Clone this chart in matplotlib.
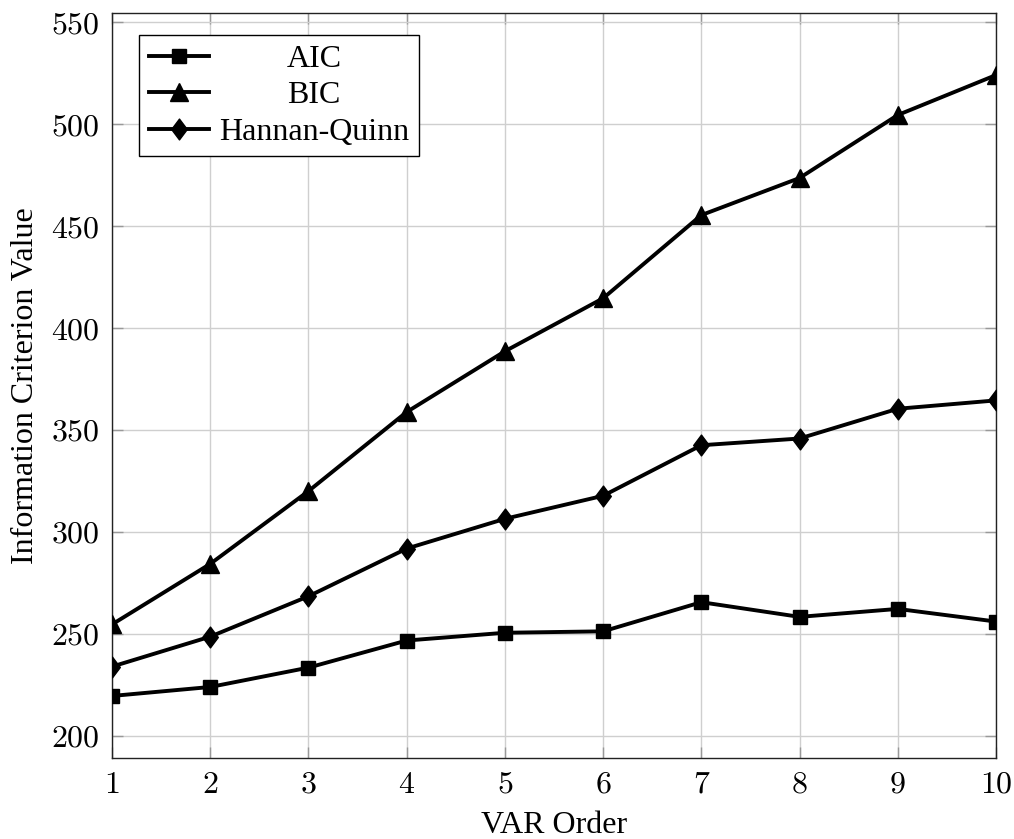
import matplotlib
matplotlib.use("Agg")
import matplotlib.pyplot as plt
from matplotlib.offsetbox import VPacker
from matplotlib.path import Path
import numpy as np

orders = [1, 2, 3, 4, 5, 6, 7, 8, 9, 10]
aic = [219.5, 223.9, 233.4, 246.7, 250.5, 251.2, 265.5, 258.3, 262.2, 256.0]
bic = [254.6, 284.3, 320.0, 358.8, 388.6, 414.6, 455.4, 473.6, 504.5, 524.1]
hq = [233.9, 248.6, 268.4, 291.8, 306.4, 317.7, 342.5, 345.8, 360.4, 364.5]
y_ticks = [200, 250, 300, 350, 400, 450, 500, 550]

plt.rcParams['font.family'] = ['Liberation Serif', 'DejaVu Serif']
plt.rcParams['mathtext.fontset'] = 'cm'

# pgfplots-like diamond (taller than wide)
diamond = Path([(0, 1), (0.75, 0), (0, -1), (-0.75, 0), (0, 1)],
               [Path.MOVETO, Path.LINETO, Path.LINETO, Path.LINETO, Path.CLOSEPOLY])

fig = plt.figure(figsize=(10.14, 8.39), dpi=100)
ax = fig.add_axes([0.1105, 0.0965, 0.8717, 0.888])

lw = 2.8
ax.plot(orders, aic, color='black', lw=lw, marker='s', markersize=10, label='AIC', zorder=3)
ax.plot(orders, bic, color='black', lw=lw, marker='^', markersize=13, label='BIC', zorder=3)
ax.plot(orders, hq, color='black', lw=lw, marker=diamond, markersize=15, label='Hannan-Quinn', zorder=3)

ax.set_xlim(1, 10)
lo = min(aic + bic + hq)
hi = max(aic + bic + hq)
pad = 0.1 * (hi - lo)
ax.set_ylim(lo - pad, hi + pad)
ax.set_xticks(orders)
ax.set_yticks(y_ticks)
ax.set_xticklabels([f"${v}$" for v in orders])
ax.set_yticklabels([f"${v}$" for v in y_ticks])
ax.tick_params(direction='in', length=8, width=1, color='#999999',
               top=True, right=True, labelsize=23, pad=9)
ax.grid(True, color='#cfcfcf', lw=1)
ax.set_axisbelow(True)
for s in ax.spines.values():
    s.set_linewidth(1)
    s.set_color('#222222')

ax.set_xlabel("VAR Order", fontsize=23, labelpad=8)
ax.set_ylabel("Information Criterion Value", fontsize=23, labelpad=8)

leg = ax.legend(loc='upper left', bbox_to_anchor=(0.0305, 0.9705), borderaxespad=0,
                fontsize=23, frameon=True, fancybox=False, framealpha=1,
                edgecolor='black', handlelength=1.9, handletextpad=0.3,
                labelspacing=0.22, borderpad=0.3)
leg.get_frame().set_linewidth(1)

# center the legend labels like pgfplots does
fig.canvas.draw()
renderer = fig.canvas.get_renderer()
widths = [t.get_window_extent(renderer).width for t in leg.get_texts()]
W = max(widths)
try:
    column = leg._legend_handle_box.get_children()[0]
    for item in column.get_children():
        h, ta = item.get_children()
        box = VPacker(children=[ta], width=W, align='center', pad=0, sep=0)
        item._children = [h, box]
except Exception:
    pass

fig.savefig("out.png", dpi=100)
